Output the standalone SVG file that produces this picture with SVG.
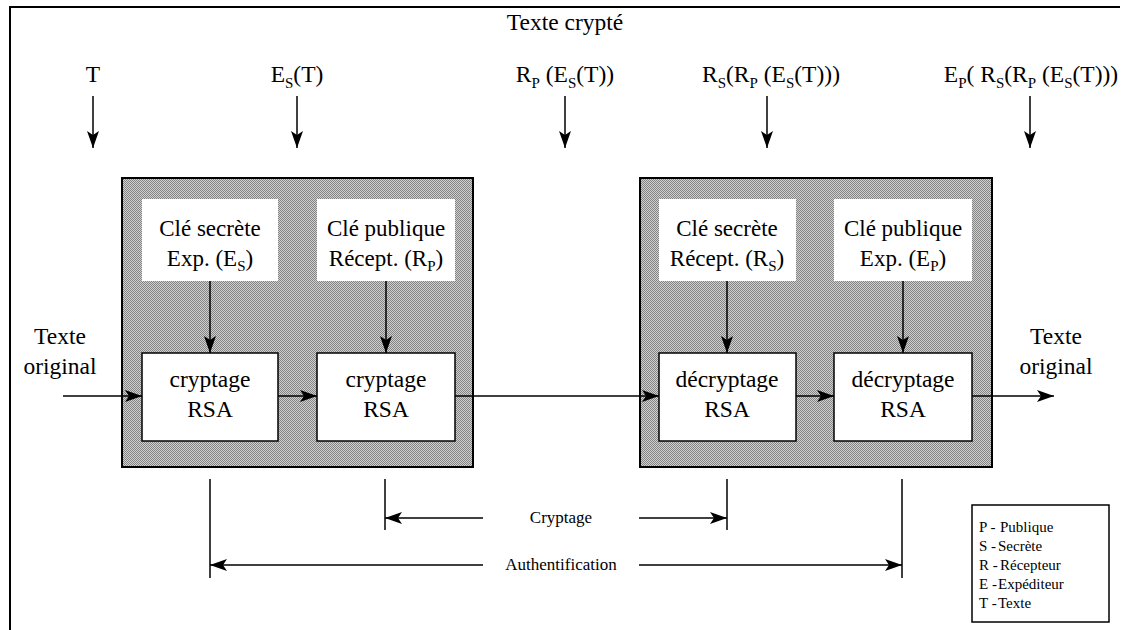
<svg xmlns="http://www.w3.org/2000/svg" width="1128" height="630" viewBox="0 0 1128 630">
  <defs>
    <!-- halftone fill used for the two processing blocks -->
    <pattern id="halftone" width="2" height="2" patternUnits="userSpaceOnUse">
      <rect width="2" height="2" fill="#d0d0d0"/>
      <rect width="1" height="1" fill="#848484"/>
      <rect x="1" y="1" width="1" height="1" fill="#848484"/>
    </pattern>
    <marker id="arrow" viewBox="0 0 17 12" refX="17" refY="6" markerWidth="17" markerHeight="12" markerUnits="userSpaceOnUse" orient="auto">
      <path d="M0,0 L17,6 L0,12 L4,6 Z" fill="#000"/>
    </marker>
    <style>
      .big { font-size: 23.5px; }
      .key { font-size: 23px; }
      .small { font-size: 17px; }
      .legend { font-size: 15px; }
      .sub { font-size: 15px; }
      .block { fill: url(#halftone); stroke: #000; stroke-width: 2; }
      .keybox { fill: #fff; }
      .op { fill: #fff; stroke: #000; stroke-width: 1.5; }
      .line { stroke: #000; stroke-width: 1.5; fill: none; }
      .arr { stroke: #000; stroke-width: 1.5; fill: none; marker-end: url(#arrow); }
    </style>
  </defs>

  <rect width="1128" height="630" fill="#fff"/>

  <!-- page frame -->
  <path d="M10,630 V7 H1120" fill="none" stroke="#000" stroke-width="2"/>

  <g font-family="Liberation Serif, Times New Roman, DejaVu Serif, serif" fill="#000">

  <!-- stage labels -->
  <g id="labels">
    <text class="big" x="565" y="30" text-anchor="middle">Texte crypté</text>
    <text class="big" x="93" y="82" text-anchor="middle">T</text>
    <text class="big" x="297" y="82" text-anchor="middle">E<tspan class="sub" dy="6">S</tspan><tspan dy="-6">(T)</tspan></text>
    <text class="big" x="565" y="82" text-anchor="middle">R<tspan class="sub" dy="6">P</tspan><tspan dy="-6"> (E</tspan><tspan class="sub" dy="6">S</tspan><tspan dy="-6">(T))</tspan></text>
    <text class="big" x="771" y="82" text-anchor="middle">R<tspan class="sub" dy="6">S</tspan><tspan dy="-6">(R</tspan><tspan class="sub" dy="6">P</tspan><tspan dy="-6"> (E</tspan><tspan class="sub" dy="6">S</tspan><tspan dy="-6">(T)))</tspan></text>
    <text class="big" x="1031" y="82" text-anchor="middle">E<tspan class="sub" dy="6">P</tspan><tspan dy="-6">( R</tspan><tspan class="sub" dy="6">S</tspan><tspan dy="-6">(R</tspan><tspan class="sub" dy="6">P</tspan><tspan dy="-6"> (E</tspan><tspan class="sub" dy="6">S</tspan><tspan dy="-6">(T)))</tspan></text>
    <text class="big" x="60" y="344" text-anchor="middle">Texte</text>
    <text class="big" x="60" y="374" text-anchor="middle">original</text>
    <text class="big" x="1056" y="344" text-anchor="middle">Texte</text>
    <text class="big" x="1056" y="374" text-anchor="middle">original</text>
  </g>

  <!-- sender block -->
  <g id="sender">
    <rect class="block" x="122" y="178" width="351" height="289"/>
  </g>
  <g id="key-es">
    <rect class="keybox" x="142" y="199" width="136" height="82"/>
    <text class="key" x="210" y="236" text-anchor="middle">Clé secrète</text>
    <text class="key" x="210" y="266" text-anchor="middle">Exp. (E<tspan class="sub" dy="5">S</tspan><tspan dy="-5">)</tspan></text>
  </g>
  <g id="key-rp">
    <rect class="keybox" x="317" y="199" width="138" height="82"/>
    <text class="key" x="386" y="236" text-anchor="middle">Clé publique</text>
    <text class="key" x="386" y="266" text-anchor="middle">Récept. (R<tspan class="sub" dy="5">P</tspan><tspan dy="-5">)</tspan></text>
  </g>
  <g id="enc-1">
    <rect class="op" x="142" y="353" width="136" height="88"/>
    <text class="big" x="210" y="387" text-anchor="middle">cryptage</text>
    <text class="big" x="210" y="417" text-anchor="middle">RSA</text>
  </g>
  <g id="enc-2">
    <rect class="op" x="317" y="353" width="138" height="88"/>
    <text class="big" x="386" y="387" text-anchor="middle">cryptage</text>
    <text class="big" x="386" y="417" text-anchor="middle">RSA</text>
  </g>

  <!-- receiver block -->
  <g id="receiver">
    <rect class="block" x="640" y="178" width="352" height="289"/>
  </g>
  <g id="key-rs">
    <rect class="keybox" x="659" y="199" width="137" height="82"/>
    <text class="key" x="727" y="236" text-anchor="middle">Clé secrète</text>
    <text class="key" x="727" y="266" text-anchor="middle">Récept. (R<tspan class="sub" dy="5">S</tspan><tspan dy="-5">)</tspan></text>
  </g>
  <g id="key-ep">
    <rect class="keybox" x="834" y="199" width="138" height="82"/>
    <text class="key" x="903" y="236" text-anchor="middle">Clé publique</text>
    <text class="key" x="903" y="266" text-anchor="middle">Exp. (E<tspan class="sub" dy="5">P</tspan><tspan dy="-5">)</tspan></text>
  </g>
  <g id="dec-1">
    <rect class="op" x="659" y="353" width="137" height="88"/>
    <text class="big" x="727" y="387" text-anchor="middle">décryptage</text>
    <text class="big" x="727" y="417" text-anchor="middle">RSA</text>
  </g>
  <g id="dec-2">
    <rect class="op" x="834" y="353" width="138" height="88"/>
    <text class="big" x="903" y="387" text-anchor="middle">décryptage</text>
    <text class="big" x="903" y="417" text-anchor="middle">RSA</text>
  </g>

  <!-- legend -->
  <g id="legend">
    <rect x="972" y="505" width="137" height="117" fill="#fff" stroke="#000" stroke-width="1.5"/>
    <text class="legend" x="979" y="532">P -</text><text class="legend" x="1000" y="532">Publique</text>
    <text class="legend" x="979" y="551">S -</text><text class="legend" x="998" y="551">Secrète</text>
    <text class="legend" x="979" y="570">R -</text><text class="legend" x="1000" y="570">Récepteur</text>
    <text class="legend" x="979" y="589">E -</text><text class="legend" x="998" y="589">Expéditeur</text>
    <text class="legend" x="979" y="608">T -</text><text class="legend" x="998" y="608">Texte</text>
  </g>

  <!-- connectors -->
  <g id="connectors">
    <!-- values entering each stage -->
    <path class="arr" d="M93,96 V148"/>
    <path class="arr" d="M297,96 V148"/>
    <path class="arr" d="M565,96 V148"/>
    <path class="arr" d="M767,96 V148"/>
    <path class="arr" d="M1030,96 V148"/>
    <!-- keys feeding the RSA operations -->
    <path class="arr" d="M210,281 V353"/>
    <path class="arr" d="M386,281 V353"/>
    <path class="arr" d="M727,281 V353"/>
    <path class="arr" d="M903,281 V353"/>
    <!-- message flow -->
    <path class="arr" d="M63,396 H142"/>
    <path class="arr" d="M278,396 H317"/>
    <path class="arr" d="M455,396 H659"/>
    <path class="arr" d="M796,396 H834"/>
    <path class="arr" d="M972,396 H1054"/>
    <!-- span markers -->
    <path class="line" d="M210,479 V578"/>
    <path class="line" d="M385,479 V530"/>
    <path class="line" d="M727,479 V530"/>
    <path class="line" d="M902,479 V578"/>
    <path class="arr" d="M483,518 H385"/>
    <path class="arr" d="M639,518 H727"/>
    <path class="arr" d="M483,565 H210"/>
    <path class="arr" d="M639,565 H902"/>
    <text class="small" x="561" y="523" text-anchor="middle">Cryptage</text>
    <text class="small" x="561" y="570" text-anchor="middle">Authentification</text>
  </g>

  </g>
</svg>
